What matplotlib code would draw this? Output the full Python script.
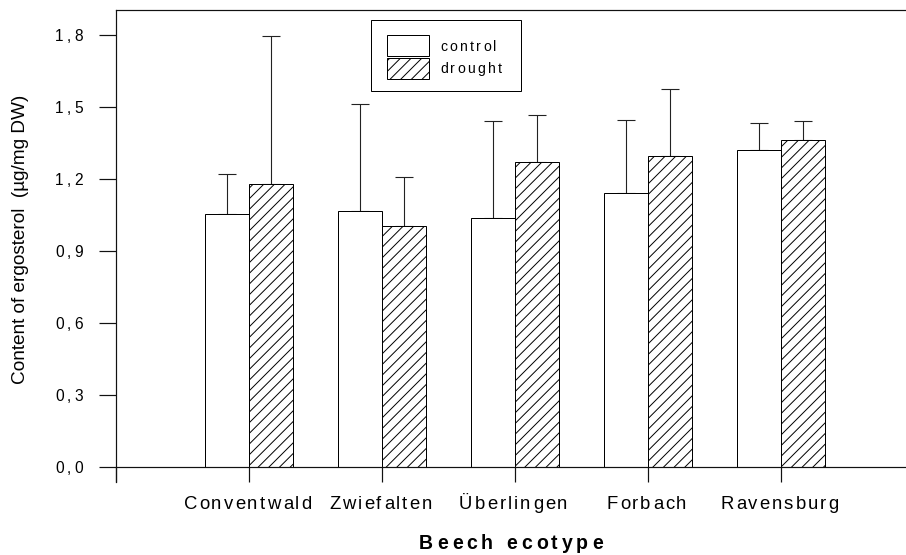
import matplotlib
matplotlib.use("Agg")
import matplotlib.pyplot as plt
from matplotlib.font_manager import FontProperties
from matplotlib.patches import Rectangle
from matplotlib.transforms import IdentityTransform
import numpy as np

# Ergosterol content per beech ecotype (mean and upper standard deviation)
ecotypes = ["Conventwald", "Zwiefalten", "Überlingen", "Forbach", "Ravensburg"]
control = [1.054, 1.068, 1.038, 1.140, 1.319]
control_err = [0.168, 0.444, 0.402, 0.307, 0.113]
drought = [1.178, 1.005, 1.272, 1.297, 1.364]
drought_err = [0.619, 0.205, 0.193, 0.278, 0.078]
yticks = [0.0, 0.3, 0.6, 0.9, 1.2, 1.5, 1.8]
series_labels = ["control", "drought"]

DPI = 128
PT = 72.0 / DPI  # pixels -> points
W, H = 906, 555
FAMILY = ["Liberation Sans", "DejaVu Sans"]

plt.rcParams["font.family"] = FAMILY
plt.rcParams["hatch.linewidth"] = 0.55
plt.rcParams["hatch.color"] = "black"
HATCH = "////"

fig = plt.figure(figsize=(W / DPI, H / DPI), dpi=DPI)
renderer = fig.canvas.get_renderer()
left, right, top, bottom = 116, 906, 10, 482
ax = fig.add_axes([left / W, 1 - bottom / H, (right - left) / W, (bottom - top) / H])

px_per_unit = 240.0
ax.set_ylim(-15 / px_per_unit, (467 - 10) / px_per_unit)
ax.set_xlim(0, (right - left) / 133.0)


def char_widths(s, prop):
    ref = renderer.get_text_width_height_descent("nn", prop, ismath=False)[0]
    out = []
    for ch in s:
        w2 = renderer.get_text_width_height_descent("n" + ch + "n", prop, ismath=False)[0]
        out.append(w2 - ref)
    return out


def tracked_text(x, y_top, s, size_px, track_px, ha="center", weight="normal"):
    """Letter-spaced text; x in display px, y_top = baseline in px from the top."""
    prop = FontProperties(family=FAMILY, size=size_px * PT, weight=weight)
    widths = char_widths(s, prop)
    total = sum(widths) + track_px * (len(s) - 1)
    if ha == "center":
        start = x - total / 2
    elif ha == "right":
        start = x - total
    else:
        start = x
    y = H - y_top
    for ch, wch in zip(s, widths):
        if ch != " ":
            fig.text(round(start), y, ch, fontproperties=prop, ha="left",
                     va="baseline", transform=IdentityTransform(), zorder=7)
        start += wch + track_px


x = np.arange(1, len(ecotypes) + 1)
w = 0.33
lw = 1.0 * PT

ax.bar(x - w / 2, control, w, color="white", edgecolor="black", linewidth=lw, zorder=2)
ax.bar(x + w / 2, drought, w, color="white", edgecolor="black", linewidth=lw,
       hatch=HATCH, zorder=2)

zeros = np.zeros(len(x))
for xs, vals, errs in ((x - w / 2, control, control_err), (x + w / 2, drought, drought_err)):
    ax.errorbar(xs, vals, yerr=[zeros, errs], fmt="none", ecolor="#222222",
                elinewidth=1.1 * PT, capsize=9 * PT, capthick=1.1 * PT, zorder=1)

# Spines
for s in ("left", "top", "bottom"):
    ax.spines[s].set_linewidth(1.2 * PT)
    ax.spines[s].set_color("#111111")
ax.spines["right"].set_visible(False)
ax.spines["bottom"].set_position(("data", 0))

ax.set_yticks(yticks)
ax.set_xticks(np.arange(0, len(ecotypes) + 1))
ax.tick_params(axis="y", direction="out", length=17 * PT, width=1.2 * PT,
               labelleft=False, color="#111111")
ax.tick_params(axis="x", direction="out", length=15 * PT, width=1.2 * PT,
               labelbottom=False, color="#111111")

# Y tick labels (decimal comma, letter-spaced)
for v in yticks:
    yd = ax.transData.transform((0, v))[1]
    tracked_text(83, H - yd + 5.7, f"{v:.1f}".replace(".", ","), 15.5, 3.2, ha="right")

# Category labels under the ticks
for xi, name in zip(x, ecotypes):
    xd = ax.transData.transform((xi, 0))[0]
    tracked_text(xd - 1.5, 509, name, 18.5, 2.1, ha="center")

# Axis titles
ax.set_ylabel("Content of ergosterol  (µg/mg DW)", fontsize=19 * PT)
ax.yaxis.set_label_coords((21 - left) / (right - left), (bottom - 239) / (bottom - top))
ax.yaxis.label.set_va("center")
tracked_text(511, 549, "Beech ecotype", 19.5, 3.9, ha="center", weight="bold")

# Legend box
frame = Rectangle((371, H - 91), 150, 71, transform=IdentityTransform(),
                  facecolor="white", edgecolor="black", linewidth=1.0 * PT, zorder=5)
fig.add_artist(frame)
h1 = Rectangle((387, H - 56), 42, 21, transform=IdentityTransform(),
               facecolor="white", edgecolor="black", linewidth=lw, zorder=6)
h2 = Rectangle((387, H - 79), 42, 21, transform=IdentityTransform(),
               facecolor="white", edgecolor="black", linewidth=lw, hatch=HATCH, zorder=6)
fig.add_artist(h1)
fig.add_artist(h2)
tracked_text(440, 50.7, series_labels[0], 14, 2.3, ha="left")
tracked_text(440, 73.0, series_labels[1], 14, 2.3, ha="left")

fig.savefig("out.png", dpi=DPI)
